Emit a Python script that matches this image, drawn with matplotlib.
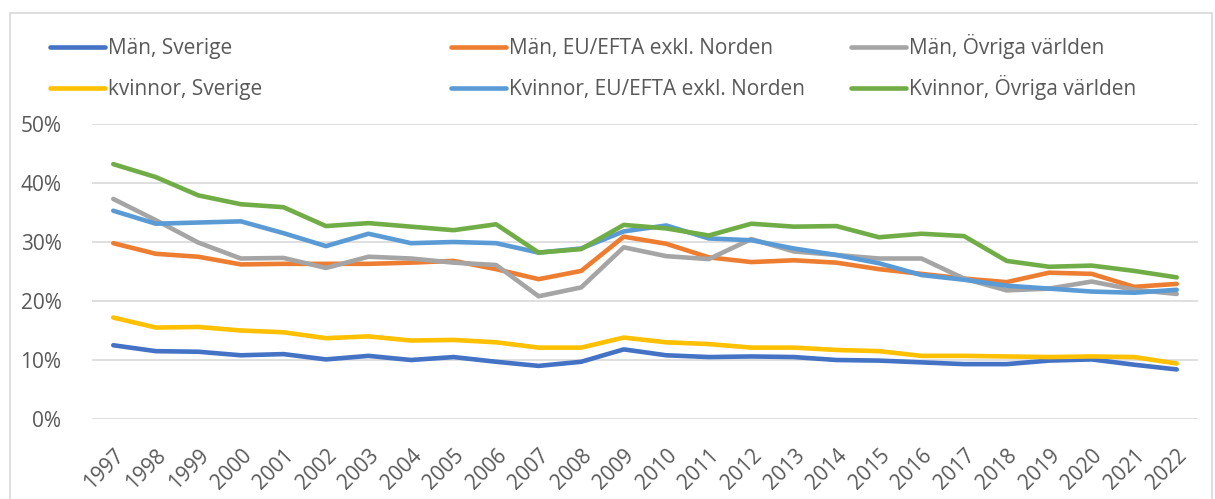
import matplotlib
matplotlib.use("Agg")
from matplotlib import pyplot as plt
from matplotlib.lines import Line2D
from matplotlib.patches import Rectangle
from matplotlib.ticker import PercentFormatter

years = [str(y) for y in range(1997, 2023)]

man_sverige = [12.5, 11.5, 11.4, 10.8, 11.0, 10.1, 10.7, 10.0, 10.5, 9.7, 9.0, 9.7, 11.8,
               10.8, 10.5, 10.6, 10.5, 10.0, 9.9, 9.6, 9.3, 9.3, 9.9, 10.1, 9.2, 8.4]
man_eu = [29.8, 28.0, 27.5, 26.2, 26.3, 26.3, 26.3, 26.5, 26.8, 25.4, 23.7, 25.1, 30.9,
          29.7, 27.4, 26.6, 26.9, 26.5, 25.4, 24.6, 23.8, 23.2, 24.8, 24.6, 22.4, 22.9]
man_ovriga = [37.3, 33.7, 29.9, 27.2, 27.3, 25.6, 27.5, 27.2, 26.5, 26.1, 20.8, 22.3, 29.1,
              27.6, 27.1, 30.5, 28.4, 27.8, 27.2, 27.2, 23.8, 21.8, 22.1, 23.3, 21.9, 21.2]
kv_sverige = [17.2, 15.5, 15.6, 15.0, 14.7, 13.7, 14.0, 13.3, 13.4, 13.0, 12.1, 12.1, 13.8,
              13.0, 12.7, 12.1, 12.1, 11.7, 11.5, 10.7, 10.7, 10.6, 10.5, 10.6, 10.5, 9.4]
kv_eu = [35.3, 33.1, 33.3, 33.5, 31.5, 29.3, 31.4, 29.8, 30.0, 29.8, 28.2, 28.9, 31.8,
         32.8, 30.6, 30.3, 28.9, 27.8, 26.4, 24.4, 23.6, 22.6, 22.1, 21.6, 21.4, 21.9]
kv_ovriga = [43.2, 41.0, 37.9, 36.4, 35.9, 32.7, 33.2, 32.6, 32.0, 33.0, 28.2, 28.8, 32.9,
             32.3, 31.1, 33.1, 32.6, 32.7, 30.8, 31.4, 31.0, 26.8, 25.8, 26.0, 25.1, 24.0]

series = [
    ("Män, Sverige", man_sverige, "#4472C4"),
    ("Män, EU/EFTA exkl. Norden", man_eu, "#ED7D31"),
    ("Män, Övriga världen", man_ovriga, "#A5A5A5"),
    ("kvinnor, Sverige", kv_sverige, "#FFC000"),
    ("Kvinnor, EU/EFTA exkl. Norden", kv_eu, "#5B9BD5"),
    ("Kvinnor, Övriga världen", kv_ovriga, "#70AD47"),
]

plt.rcParams["font.family"] = ["Open Sans", "DejaVu Sans"]
text_color = "#595959"
fs = 15
lw = 3.3
W, H = 1215, 499

fig = plt.figure(figsize=(12.15, 4.99), dpi=100)
fig.patches.append(Rectangle((10 / W, -0.05), 1202 / W, 1 - 13 / H + 0.05,
                             transform=fig.transFigure, fill=False,
                             edgecolor="#D9D9D9", linewidth=1.2))
ax = fig.add_axes([92 / W, 1 - 419 / H, 1106 / W, 295 / H])

x = list(range(len(years)))
for label, vals, color in series:
    ax.plot(x, vals, color=color, linewidth=lw, solid_capstyle="round",
            solid_joinstyle="round", label=label)

ax.set_xlim(-0.5, len(years) - 0.5)
ax.set_ylim(0, 50)
ax.set_yticks([0, 10, 20, 30, 40, 50])
ax.yaxis.set_major_formatter(PercentFormatter(decimals=0))
ax.set_xticks(x)
ax.set_xticklabels(years, rotation=45, ha="right", rotation_mode="anchor")
ax.tick_params(axis="both", length=0, labelsize=fs, colors=text_color)
ax.tick_params(axis="y", pad=22)
ax.tick_params(axis="x", pad=19)
for s in ax.spines.values():
    s.set_visible(False)
ax.grid(axis="y", color="#D9D9D9", linewidth=1.2)
ax.set_axisbelow(True)

# legend drawn by hand: three evenly spaced columns, two rows
col_x = [50, 451, 851]
row_y = [46.5, 88]
for i, (label, vals, color) in enumerate(series):
    cx = col_x[i % 3]
    cy = 1 - row_y[i // 3] / H
    fig.add_artist(Line2D([cx / W, (cx + 55) / W], [cy, cy], color=color,
                          linewidth=lw, solid_capstyle="round",
                          transform=fig.transFigure))
    fig.text((cx + 58) / W, cy - 7.5 / H, label, color=text_color, fontsize=fs,
             va="baseline", ha="left")

fig.savefig("out.png", dpi=100)
